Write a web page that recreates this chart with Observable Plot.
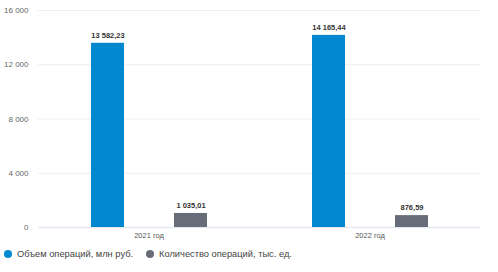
<!DOCTYPE html>
<html>
<head>
<meta charset="utf-8">
<script src="https://cdn.jsdelivr.net/npm/d3@7"></script>
<script src="https://cdn.jsdelivr.net/npm/@observablehq/plot@0.6"></script>
<style>
  html, body { margin: 0; padding: 0; background: #fff; }
  body { font-family: "Liberation Sans", Arial, sans-serif; width: 498px; }
  #legend { display: flex; align-items: center; height: 20px; font-size: 9.3px; color: #444; padding-left: 4px; }
  #legend .item { display: flex; align-items: center; margin-right: 13px; }
  #legend .dot { width: 8px; height: 8px; border-radius: 50%; margin-right: 5px; }
</style>
</head>
<body>
<div id="chart"></div>
<div id="legend"></div>
<script>
const years = ["2021 год", "2022 год"];
const series = ["Объем операций, млн руб.", "Количество операций, тыс. ед."];
const volume = [13582.23, 14165.44];
const count = [1035.01, 876.59];
const yTicks = [0, 4000, 8000, 12000, 16000];
const colors = ["#0288cf", "#676c78"];

const data = years.flatMap((y, i) => [
  {year: y, series: series[0], value: volume[i]},
  {year: y, series: series[1], value: count[i]}
]);

const loc = d3.formatLocale({decimal: ",", thousands: " ", grouping: [3], currency: ["", ""]});
const fmtVal = loc.format(",.2f");
const fmtTick = loc.format(",.0f");

const chart = Plot.plot({
  width: 498,
  height: 244,
  marginLeft: 38,
  marginRight: 18,
  marginTop: 10,
  marginBottom: 17,
  style: {fontFamily: "Liberation Sans, Arial, sans-serif", background: "#fff"},
  fx: {domain: years, padding: 0, label: null, axis: null},
  x: {domain: series, axis: null, paddingInner: 0.607, paddingOuter: 0.619},
  y: {domain: [0, 16000], axis: null, label: null},
  color: {domain: series, range: colors},
  marks: [
    Plot.gridY(yTicks.filter(d => d > 0), {stroke: "#eeeeee", strokeOpacity: 1}),
    Plot.ruleY([0], {stroke: "#e4e8f0", strokeWidth: 1.5}),
    Plot.barY(data, {fx: "year", x: "series", y: "value", fill: "series"}),
    Plot.text(data, {fx: "year", x: "series", y: "value", text: d => fmtVal(d.value), dy: -8, fontWeight: "bold", fontSize: 7.5, fill: "#333"}),
    Plot.axisY({ticks: yTicks, tickFormat: fmtTick, tickSize: 0, tickPadding: 10, fontSize: 8, color: "#666", label: null}),
    Plot.axisFx({anchor: "bottom", tickSize: 0, tickPadding: 5, fontSize: 7.5, color: "#555", label: null})
  ]
});
document.getElementById("chart").appendChild(chart);

const legend = document.getElementById("legend");
series.forEach((s, i) => {
  const item = document.createElement("div");
  item.className = "item";
  const dot = document.createElement("span");
  dot.className = "dot";
  dot.style.background = colors[i];
  const label = document.createElement("span");
  label.textContent = s;
  item.appendChild(dot);
  item.appendChild(label);
  legend.appendChild(item);
});
</script>
</body>
</html>
